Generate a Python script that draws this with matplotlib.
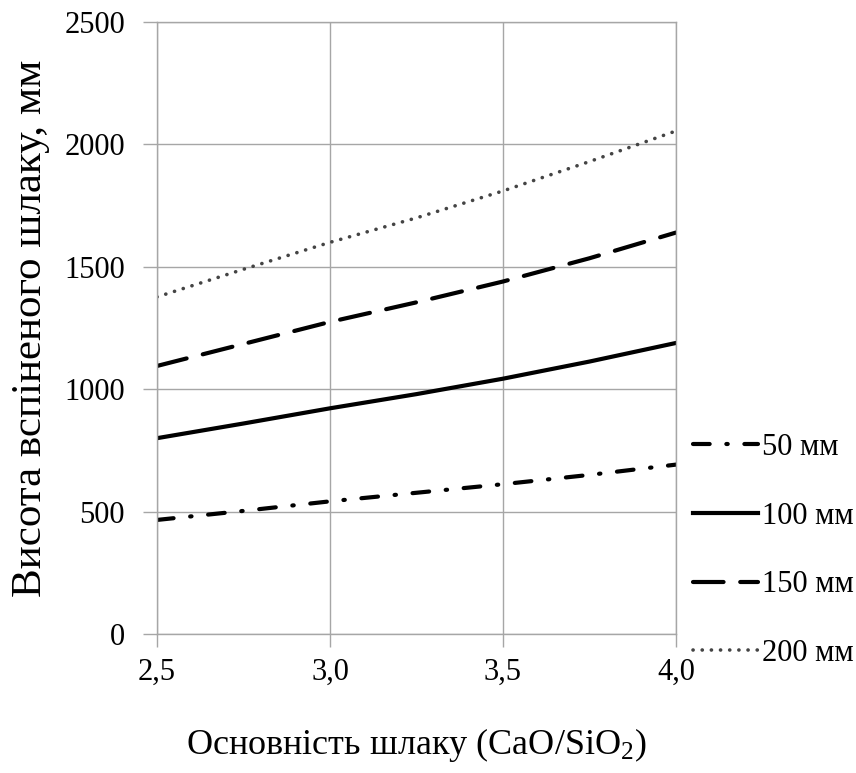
import matplotlib
matplotlib.use('Agg')
import matplotlib.pyplot as plt

# basicity values (CaO/SiO2)
basicity = [2.5, 2.75, 3.0, 3.25, 3.5, 3.75, 4.0]

# foamed slag height, mm, for different slag layer thickness
h_50 = [466, 503, 542, 577, 612, 650, 692]
h_100 = [800, 860, 922, 980, 1043, 1113, 1189]
h_150 = [1095, 1185, 1275, 1355, 1440, 1535, 1640]
h_200 = [1377, 1490, 1600, 1700, 1810, 1930, 2055]

labels = ['50 мм', '100 мм', '150 мм', '200 мм']
x_ticks = [2.5, 3.0, 3.5, 4.0]
x_ticklabels = ['2,5', '3,0', '3,5', '4,0']
y_ticks = [0, 500, 1000, 1500, 2000, 2500]

plt.rcParams['font.family'] = ['Liberation Serif', 'DejaVu Serif']
plt.rcParams['mathtext.fontset'] = 'custom'
plt.rcParams['mathtext.rm'] = 'Liberation Serif'
plt.rcParams['mathtext.it'] = 'Liberation Serif'
plt.rcParams['lines.scale_dashes'] = False

fig = plt.figure(figsize=(8.56, 7.73), dpi=100)
ax = fig.add_axes([0.1834, 0.1798, 0.6063, 0.7917])

grid_c = '#a6a6a6'

ax.plot(basicity, h_50, color='black', lw=3, linestyle=(0, (12, 12, 1, 12)),
        dash_capstyle='round', label=labels[0])
ax.plot(basicity, h_100, color='black', lw=3, label=labels[1])
ax.plot(basicity, h_150, color='black', lw=3, linestyle=(0, (22, 12)),
        dash_capstyle='round', label=labels[2])
ax.plot(basicity, h_200, color='#444444', lw=2.6, linestyle=(0, (0.1, 6.5)),
        dash_capstyle='round', label=labels[3])

ax.set_xlim(2.5, 4.0)
ax.set_ylim(0, 2500)
ax.set_xticks(x_ticks)
ax.set_xticklabels(x_ticklabels)
ax.set_yticks(y_ticks)
ax.grid(True, color=grid_c, lw=1)
ax.set_axisbelow(True)
for s in ax.spines.values():
    s.set_color(grid_c)
    s.set_linewidth(1)
ax.tick_params(axis='x', colors=grid_c, length=9, width=1, pad=8,
               labelcolor='black', labelsize=22)
ax.tick_params(axis='y', colors=grid_c, length=10, width=1, pad=13,
               labelcolor='black', labelsize=22)

ax.set_xlabel('Основність шлаку (CaO/SiO$_\\mathrm{2}$)', fontsize=26, labelpad=28)
ax.set_ylabel('Висота вспіненого шлаку, мм', fontsize=31, labelpad=10)

fig.legend(loc='center left', bbox_to_anchor=(0.810, 0.288), frameon=False,
           fontsize=22, handlelength=2.1, handletextpad=0.15, labelspacing=1.3,
           borderaxespad=0, borderpad=0)

fig.savefig('out.png', dpi=100)
